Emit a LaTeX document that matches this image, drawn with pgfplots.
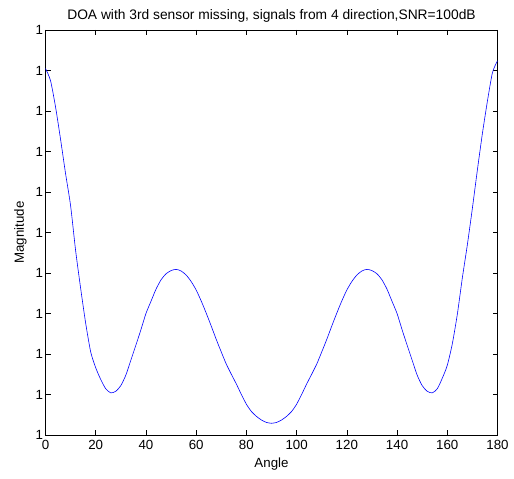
\documentclass[border=0pt]{standalone}
\usepackage{pgfplots}
\pgfplotsset{compat=1.18}
\usepackage{fontspec}
\setmainfont{Liberation Sans}
\pgfplotstableread{
a v
0 9.05
2 8.75
4 8.10
6 7.30
8 6.45
10 5.66
12 4.55
14 3.62
16 2.76
18 2.05
20 1.66
22 1.37
24 1.14
26 1.04
28 1.08
30 1.22
32 1.48
34 1.85
36 2.22
38 2.60
40 3.00
42 3.30
44 3.60
46 3.83
48 3.98
50 4.06
52 4.09
54 4.05
56 3.95
58 3.79
60 3.58
62 3.31
64 3.01
66 2.69
68 2.36
70 2.05
72 1.75
74 1.50
76 1.26
78 1.00
80 0.76
82 0.58
84 0.46
86 0.37
88 0.31
90 0.29
92 0.31
94 0.37
96 0.46
98 0.58
100 0.76
102 1.00
104 1.26
106 1.50
108 1.75
110 2.05
112 2.36
114 2.69
116 3.01
118 3.31
120 3.58
122 3.79
124 3.95
126 4.05
128 4.09
130 4.06
132 3.98
134 3.83
136 3.60
138 3.30
140 3.00
142 2.60
144 2.22
146 1.85
148 1.48
150 1.22
152 1.08
154 1.04
156 1.14
158 1.40
160 1.72
162 2.25
164 2.98
166 3.88
168 4.70
170 5.60
172 6.55
174 7.45
176 8.25
178 8.95
180 9.24
}\datatable
\begin{document}
\begin{tikzpicture}
\path[use as bounding box] (-45.5pt,-44pt) rectangle (468.5pt,435pt);
\begin{axis}[
  at={(0pt,0pt)}, anchor=south west,
  scale only axis, width=452pt, height=405pt,
  xmin=0, xmax=180, ymin=0, ymax=10,
  xtick={0,20,...,180},
  xticklabels={0,20,40,60,80,100,120,140,160,180},
  ytick={0,1,...,10},
  yticklabel={1},
  tick align=inside,
  major tick length=5pt,
  tick style={black, line width=0.6pt},
  axis line style={line width=0.8pt},
  every tick label/.append style={font=\fontsize{13.3}{15}\selectfont},
  title={DOA with 3rd sensor missing, signals from 4 direction,SNR=100dB},
  title style={font=\fontsize{13.8}{15}\selectfont, yshift=-2pt},
  xlabel={Angle}, ylabel={Magnitude},
  label style={font=\fontsize{13.3}{15}\selectfont},
  xlabel style={yshift=-2pt},
  ylabel style={yshift=2pt},
  xticklabel style={yshift=-1.5pt},
  yticklabel style={xshift=1pt},
]
\addplot[blue, line width=0.6pt, smooth, tension=0.4] table[x=a, y=v] {\datatable};
\end{axis}
\end{tikzpicture}
\end{document}
